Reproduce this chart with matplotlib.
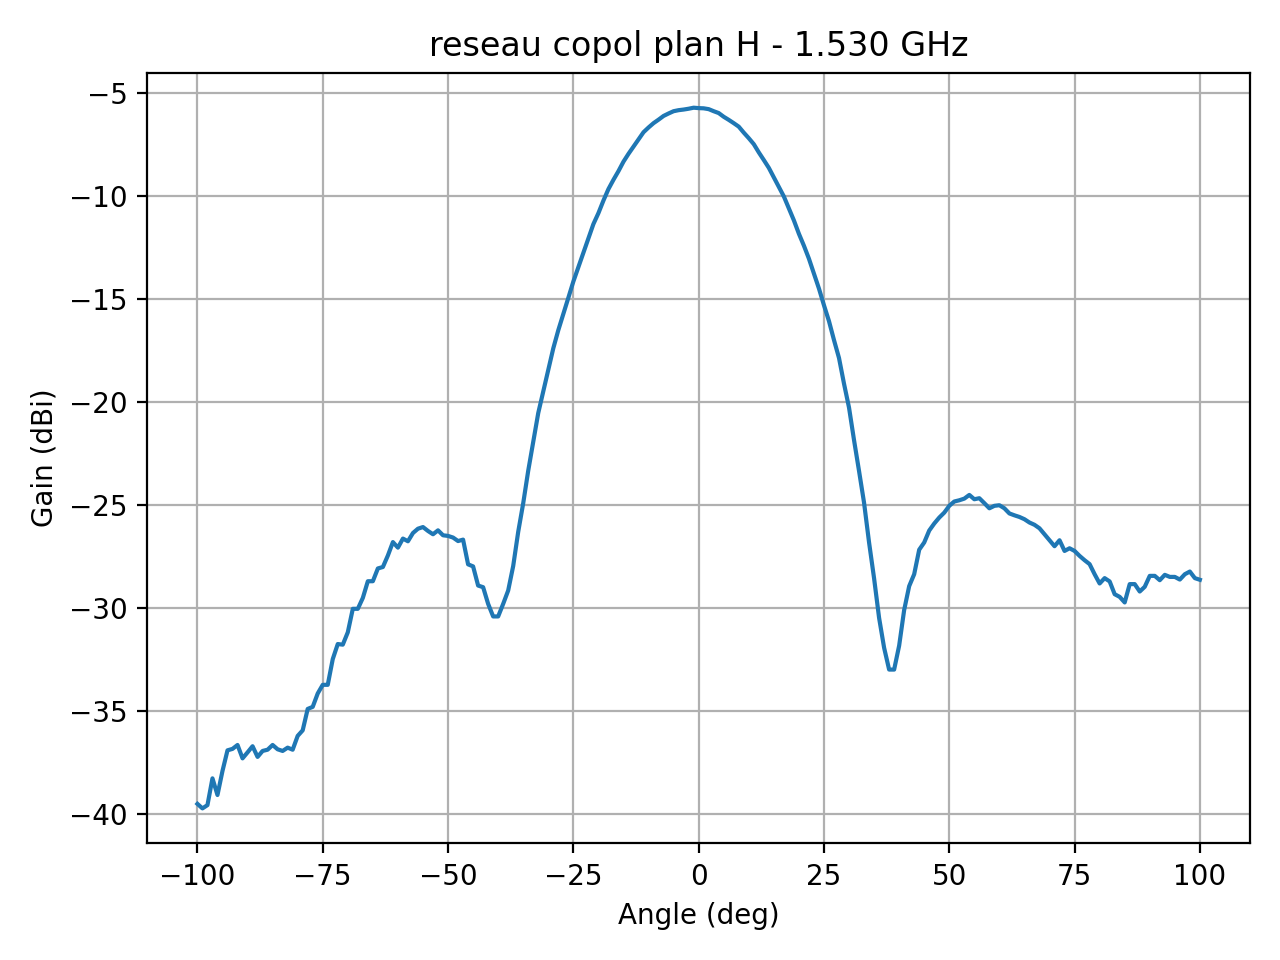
import numpy as np
import matplotlib
matplotlib.use('Agg')
import matplotlib.pyplot as plt

# angles de -100 a 100 deg, pas de 1 deg
angle = np.arange(-100, 101, 1)

# gain relevé (dBi), par blocs
gain_gauche = [
    -39.50, -39.72, -39.56, -38.26, -39.07, -37.90, -36.90, -36.83, -36.64, -37.29,
    -37.00, -36.70, -37.22, -36.93, -36.87, -36.64, -36.85, -36.93, -36.77, -36.87,
    -36.20, -35.93, -34.89, -34.79, -34.14, -33.72, -33.72, -32.47, -31.74, -31.77,
    -31.17, -30.03, -30.03, -29.50, -28.69, -28.69, -28.07, -28.00, -27.44, -26.79,
    -27.06, -26.62, -26.75, -26.35, -26.14, -26.06, -26.25, -26.41, -26.22, -26.46,
    -26.49, -26.57, -26.74, -26.67, -27.87, -27.97, -28.90, -28.98, -29.79, -30.40,
    -30.40, -29.79, -29.14,
]  # -100 .. -38
gain_lobe_g = [
    -27.95, -26.29, -24.90, -23.32, -21.92, -20.52, -19.48, -18.43, -17.38, -16.50,
    -15.72, -14.93, -14.14, -13.44, -12.74, -12.05, -11.35, -10.82, -10.21, -9.65,
    -9.20, -8.78, -8.32, -7.94, -7.59, -7.24, -6.89, -6.66, -6.45, -6.28,
    -6.10, -5.98, -5.87, -5.82, -5.79, -5.75, -5.70,
]  # -37 .. -1
gain_lobe_d = [
    -5.72, -5.73, -5.77, -5.87, -5.96, -6.14, -6.29, -6.45, -6.62, -6.91,
    -7.18, -7.47, -7.87, -8.24, -8.62, -9.08, -9.53, -10.01, -10.59, -11.17,
    -11.82, -12.40, -13.03, -13.75, -14.48, -15.29, -16.06, -16.98, -17.85, -19.10,
    -20.26, -21.84, -23.34, -24.88, -26.81, -28.55, -30.47, -31.92, -32.98, -32.98,
    -31.82, -30.09, -28.93, -28.35, -27.16, -26.81,
]  # 0 .. 45
gain_droite = [
    -26.23, -25.89, -25.60, -25.36, -25.03, -24.82, -24.76, -24.68, -24.50, -24.71,
    -24.66, -24.90, -25.15, -25.03, -25.00, -25.15, -25.40, -25.49, -25.57, -25.68,
    -25.84, -25.95, -26.12, -26.41, -26.70, -26.99, -26.70, -27.22, -27.09, -27.22,
    -27.46, -27.67, -27.86, -28.35, -28.80, -28.54, -28.70, -29.32, -29.45, -29.72,
    -28.83, -28.83, -29.19, -28.96, -28.43, -28.43, -28.64, -28.38, -28.48, -28.48,
    -28.61, -28.35, -28.22, -28.54, -28.62,
]  # 46 .. 100

gain = np.array(gain_gauche + gain_lobe_g + gain_lobe_d + gain_droite)

fig, ax = plt.subplots(figsize=(6.4, 4.8), dpi=200)
ax.plot(angle, gain)
ax.set_title('reseau copol plan H - 1.530 GHz')
ax.set_xlabel('Angle (deg)')
ax.set_ylabel('Gain (dBi)')
ax.grid(True)
plt.tight_layout()
fig.savefig('out.png', dpi=200)
